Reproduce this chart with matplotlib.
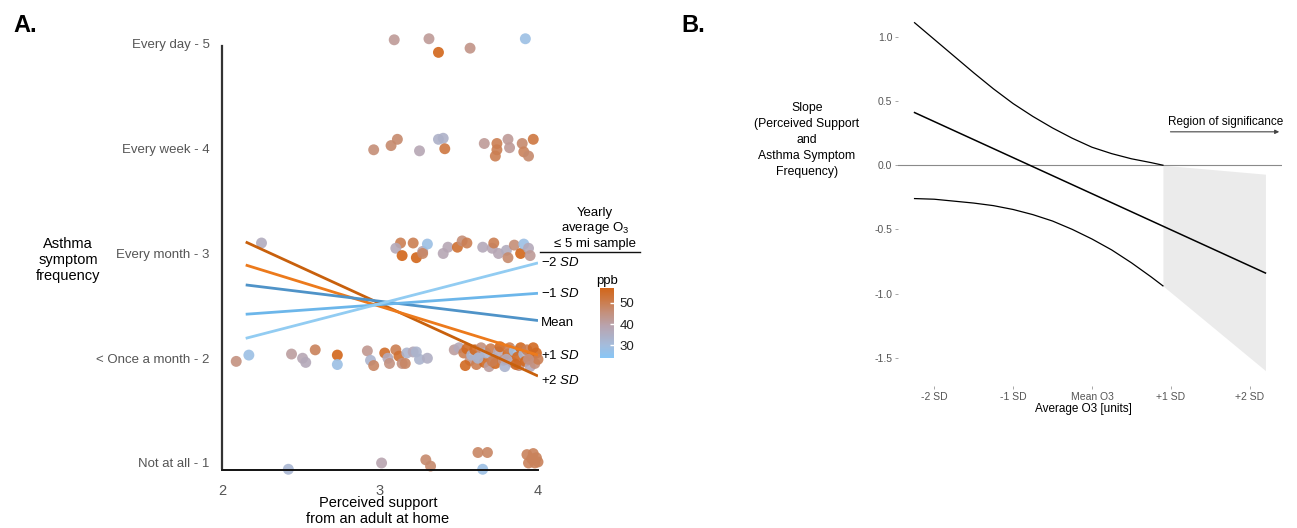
import numpy as np
import matplotlib
matplotlib.use('Agg')
import matplotlib.pyplot as plt
from matplotlib.colors import LinearSegmentedColormap, Normalize
from matplotlib.cm import ScalarMappable

plt.rcParams['font.family'] = ['Liberation Sans', 'DejaVu Sans']
plt.rcParams['mathtext.fontset'] = 'custom'
plt.rcParams['mathtext.rm'] = 'Liberation Sans'
plt.rcParams['mathtext.it'] = 'Liberation Sans:italic'
plt.rcParams['axes.unicode_minus'] = False

# ---- panel A data ----
level_labels = ['Not at all - 1', '< Once a month - 2', 'Every month - 3',
                'Every week - 4', 'Every day - 5']
levels = [1, 2, 3, 4, 5]
support_ticks = [2, 3, 4]

# observations: perceived support, jittered symptom level, ozone (ppb)
pts_x = [3.09, 3.31, 3.37, 3.57, 3.92,
         2.96, 3.07, 3.11, 3.25, 3.37, 3.40, 3.41, 3.66, 3.74, 3.74, 3.73,
         3.81, 3.82, 3.90, 3.91, 3.94, 3.97,
         2.25, 3.13, 3.10, 3.14, 3.21, 3.23, 3.27, 3.30, 3.27, 3.40, 3.43,
         3.49, 3.52, 3.55, 3.65, 3.71, 3.72, 3.75, 3.80, 3.81, 3.85, 3.89,
         3.91, 3.94, 3.95,
         2.09, 2.17, 2.44, 2.51, 2.53, 2.59, 2.73, 2.73,
         2.92, 2.94, 2.96, 3.03, 3.05, 3.06, 3.10, 3.12, 3.14, 3.17, 3.16,
         3.21, 3.23, 3.25, 3.30,
         3.47, 3.50, 3.53, 3.55, 3.57, 3.58, 3.60, 3.61, 3.63, 3.64, 3.66,
         3.67, 3.69, 3.70, 3.72, 3.73, 3.75, 3.76, 3.78, 3.79, 3.81, 3.82,
         3.84, 3.85, 3.87, 3.88, 3.89, 3.91, 3.92, 3.93, 3.95, 3.96, 3.97,
         3.98, 3.99, 4.00, 3.54, 3.62, 3.71, 3.80, 3.86, 3.94,
         2.42, 3.01, 3.29, 3.32, 3.62, 3.68, 3.65, 3.93, 3.97, 3.99, 3.94,
         3.98, 3.96, 4.00]
pts_y = [5.04, 5.05, 4.92, 4.96, 5.05,
         3.99, 4.03, 4.09, 3.98, 4.09, 4.10, 4.00, 4.05, 4.05, 3.99, 3.93,
         4.09, 4.01, 4.05, 3.97, 3.93, 4.09,
         3.10, 3.10, 3.05, 2.98, 3.10, 2.96, 3.02, 3.09, 3.00, 3.00, 3.06,
         3.06, 3.12, 3.10, 3.06, 3.05, 3.10, 3.00, 3.03, 2.96, 3.08, 3.00,
         3.09, 3.05, 2.98,
         1.97, 2.03, 2.04, 2.00, 1.96, 2.08, 2.03, 1.94,
         2.07, 1.98, 1.93, 2.05, 2.00, 1.95, 2.08, 2.02, 1.95, 2.05, 1.95,
         2.06, 2.06, 1.99, 2.00,
         2.08, 2.10, 2.05, 2.09, 1.98, 2.03, 2.08, 1.94, 2.01, 2.10, 1.96,
         2.05, 1.92, 2.09, 2.00, 1.95, 2.06, 2.11, 1.98, 1.92, 2.04, 2.10,
         1.96, 2.07, 2.01, 1.93, 2.10, 2.04, 1.97, 2.08, 1.92, 2.02, 2.10,
         1.95, 2.05, 1.99, 1.93, 2.00, 1.97, 1.99, 1.94, 1.99,
         0.94, 1.00, 1.03, 0.97, 1.10, 1.10, 0.94, 1.08, 1.09, 1.05, 1.00,
         1.00, 1.04, 1.01]
pts_ppb = [42, 42, 57, 44, 28,
           46, 47, 47, 38, 34, 34, 52, 42, 50, 50, 50,
           42, 42, 47, 49, 47, 52,
           36, 50, 37, 57, 50, 57, 39, 28, 48, 38, 38,
           54, 46, 50, 37, 38, 50, 38, 36, 47, 46, 57,
           28, 37, 42,
           45, 28, 41, 38, 37, 49, 57, 28,
           43, 33, 48, 55, 37, 45, 50, 54, 45, 33, 48,
           37, 33, 33, 35,
           41, 37, 50, 56, 45, 33, 56, 50, 37, 45, 56,
           33, 41, 50, 29, 56, 37, 56, 45, 33, 56, 50,
           37, 29, 56, 45, 56, 33, 56, 50, 37, 56, 56,
           45, 56, 50, 56, 33, 50, 37, 56, 45,
           32, 39, 47, 47, 48, 48, 28, 49, 49, 49, 49,
           49, 49, 49]

# simple slopes by ozone level (start at x=2.15, end at x=4)
slope_names = ['+2 SD', '+1 SD', 'Mean', '-1 SD', '-2 SD']
slope_x = [2.15, 4.0]
slope_start = [3.11, 2.89, 2.70, 2.42, 2.19]
slope_end = [1.83, 2.03, 2.36, 2.62, 2.91]
slope_colors = ['#c8600c', '#ec7a1c', '#4f93c8', '#6cb6ea', '#92ccf2']

# ---- panel B data ----
sd_ticks = [-2, -1, 0, 1, 2]
sd_labels = ['-2 SD', '-1 SD', 'Mean O3', '+1 SD', '+2 SD']
ci_x = [-2.25, -2.0, -1.75, -1.5, -1.25, -1.0, -0.75, -0.5, -0.25,
        0.0, 0.25, 0.5, 0.75, 0.9]
ci_upper = [1.11, 0.98, 0.85, 0.72, 0.595, 0.48, 0.38, 0.29, 0.21,
            0.14, 0.09, 0.05, 0.02, 0.0]
ci_lower = [-0.26, -0.265, -0.28, -0.295, -0.315, -0.345, -0.385, -0.435,
            -0.50, -0.575, -0.66, -0.76, -0.87, -0.94]
est_x = [-2.25, 2.2]
est_y = [0.41, -0.84]
sig_x = [0.9, 2.2]
sig_upper = [0.0, -0.07]
sig_lower = [-0.94, -1.60]

W, H = 1297, 528
fig = plt.figure(figsize=(W / 100, H / 100), dpi=100)


def rect(x0, y0, x1, y1):
    return [x0 / W, 1 - y1 / H, (x1 - x0) / W, (y1 - y0) / H]


cmap = LinearSegmentedColormap.from_list(
    'o3', [(0.0, '#88c6f6'), (0.18, '#a4bcdc'), (0.45, '#b8a4b0'),
           (0.65, '#c4907c'), (0.82, '#cc7a48'), (1.0, '#d2661a')])
norm = Normalize(24, 57)

# ---------------- panel A ----------------
ax = fig.add_axes(rect(222, 31, 538, 470))
ax.scatter(pts_x, pts_y, c=pts_ppb, cmap=cmap, norm=norm, s=62,
           alpha=0.9, edgecolors='none', zorder=2, clip_on=False)
for i in range(len(slope_names)):
    ax.plot(slope_x, [slope_start[i], slope_end[i]], color=slope_colors[i],
            lw=2.0, zorder=3, solid_capstyle='butt')
ax.set_xlim(2, 4)
ax.set_ylim(0.933, 5.124)
ax.set_yticks(levels)
ax.set_yticklabels(level_labels)
ax.set_xticks(support_ticks)
ax.tick_params(length=0, labelsize=9.5, colors='#555555')
ax.tick_params(axis='y', pad=9)
ax.tick_params(axis='x', pad=10, labelsize=10.5)
for s in ['top', 'right']:
    ax.spines[s].set_visible(False)
ax.spines['left'].set_bounds(0.95, 4.98)
ax.spines['left'].set_color('#333333')
ax.spines['left'].set_linewidth(1.6)
ax.spines['bottom'].set_color('#111111')
ax.spines['bottom'].set_linewidth(1.4)

fig.text(68 / W, 1 - 260 / H, 'Asthma\nsymptom\nfrequency', ha='center',
         va='center', fontsize=10.5, linespacing=1.15)
fig.text(378 / W, 1 - 511 / H, 'Perceived support\nfrom an adult at home',
         ha='center', va='center', fontsize=10.5, linespacing=1.1)
fig.text(25 / W, 1 - 25 / H, 'A.', fontsize=17, fontweight='bold',
         va='center', ha='center')

# legend for slopes
fig.text(595 / W, 1 - 228 / H, 'Yearly\naverage O$_3$\n\u2264 5 mi sample',
         ha='center', va='center', fontsize=9.5, linespacing=1.15)
fig.add_artist(plt.Line2D([540 / W, 640 / W], [1 - 252 / H, 1 - 252 / H],
                          color='#111111', lw=1.0))
label_offsets = [-0.04, 0.0, -0.02, 0.0, 0.0]
for i in range(len(slope_names)):
    name = slope_names[i]
    if name == 'Mean':
        txt = 'Mean'
    else:
        txt = name.replace(' SD', '').replace('-', '\u2212') + ' $\\mathit{SD}$'
    ax.text(4.02, slope_end[i] + label_offsets[i], txt, ha='left',
            va='center', fontsize=9.5, clip_on=False)

cax = fig.add_axes(rect(600, 288, 614, 358))
cb = fig.colorbar(ScalarMappable(norm=norm, cmap=cmap), cax=cax)
cb.outline.set_visible(False)
cb.set_ticks([30, 40, 50])
cax.tick_params(length=3, width=1, colors='white', labelcolor='#222222',
                labelsize=9.5, direction='in', pad=4)
cax.set_title('ppb', fontsize=9.5, pad=3)

# ---------------- panel B ----------------
bx = fig.add_axes(rect(898, 15, 1282, 386))
bx.fill_between(sig_x, sig_lower, sig_upper, color='#ebebeb', lw=0,
                zorder=1)
bx.axhline(0, color='#8a8a8a', lw=0.8, zorder=2)
bx.plot(ci_x, ci_upper, color='black', lw=0.9, zorder=3)
bx.plot(ci_x, ci_lower, color='black', lw=0.9, zorder=3)
bx.plot(est_x, est_y, color='black', lw=1.1, zorder=3)
bx.set_xlim(-2.46, 2.41)
bx.set_ylim(-1.72, 1.17)
bx.set_xticks(sd_ticks)
bx.set_xticklabels(sd_labels)
bx.set_yticks([1.0, 0.5, 0.0, -0.5, -1.0, -1.5])
bx.tick_params(length=2, width=0.6, color='#999999', labelsize=7.5,
               labelcolor='#555555', pad=2)
for s in bx.spines.values():
    s.set_visible(False)

bx.annotate('', xy=(2.41, 0.26), xytext=(0.96, 0.26),
            arrowprops=dict(arrowstyle='-|>', color='#444444', lw=0.8,
                            mutation_scale=6), annotation_clip=False)
bx.text(0.96, 0.335, 'Region of significance', ha='left', va='center',
        fontsize=8.5, clip_on=False)
fig.text(1083 / W, 1 - 409 / H, 'Average O3 [units]', ha='center',
         va='center', fontsize=8.5)
fig.text(807 / W, 1 - 140 / H,
         'Slope\n(Perceived Support\nand\nAsthma Symptom\nFrequency)',
         ha='center', va='center', fontsize=8.8, linespacing=1.45)
fig.text(693 / W, 1 - 25 / H, 'B.', fontsize=17, fontweight='bold',
         va='center', ha='center')

fig.savefig('out.png', dpi=100, facecolor='white')
